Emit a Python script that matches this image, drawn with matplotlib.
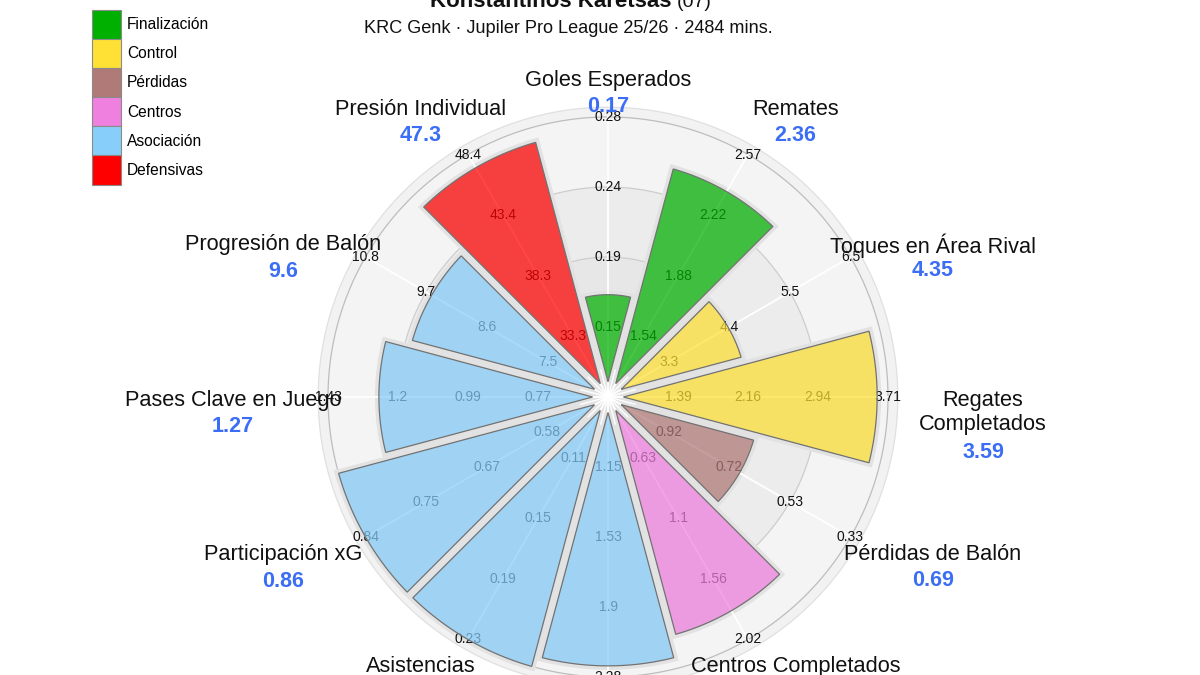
import numpy as np
import matplotlib
matplotlib.use('Agg')
import matplotlib.pyplot as plt
from matplotlib.patches import Patch
from matplotlib.colors import to_rgba

plt.rcParams['font.family'] = ['Liberation Sans', 'DejaVu Sans']

W, H, DPI = 1200, 675, 100

player = 'Konstantinos Karetsas'
dorsal = '(07)'
subtitle = 'KRC Genk · Jupiler Pro League 25/26 · 2484 mins.'

metrics = ['Goles Esperados', 'Remates', 'Toques en Área Rival', 'Regates\nCompletados',
           'Pérdidas de Balón', 'Centros Completados', 'Pases Progresivos', 'Asistencias',
           'Participación xG', 'Pases Clave en Juego', 'Progresión de Balón', 'Presión Individual']
values = [0.17, 2.36, 4.35, 3.59, 0.69, 1.80, 2.22, 0.23, 0.86, 1.27, 9.6, 47.3]
groups = ['Finalización', 'Finalización', 'Control', 'Control', 'Pérdidas', 'Centros',
          'Asociación', 'Asociación', 'Asociación', 'Asociación', 'Asociación', 'Defensivas']
# ring labels of each slice, inner -> outer (Pérdidas is inverted: lower is better)
rings = [
    [0.15, 0.19, 0.24, 0.28],
    [1.54, 1.88, 2.22, 2.57],
    [3.3, 4.4, 5.5, 6.5],
    [1.39, 2.16, 2.94, 3.71],
    [0.92, 0.72, 0.53, 0.33],
    [0.63, 1.1, 1.56, 2.02],
    [1.15, 1.53, 1.9, 2.28],
    [0.11, 0.15, 0.19, 0.23],
    [0.58, 0.67, 0.75, 0.84],
    [0.77, 0.99, 1.2, 1.43],
    [7.5, 8.6, 9.7, 10.8],
    [33.3, 38.3, 43.4, 48.4],
]
group_names = ['Finalización', 'Control', 'Pérdidas', 'Centros', 'Asociación', 'Defensivas']
group_colors = ['#00b000', '#ffe135', '#b07a78', '#f080e0', '#87cefa', '#ff0000']
color_of = dict(zip(group_names, group_colors))

# geometry (pixels)
CX, CY, R_PX = 608, 397, 280
RMAX = 1.05
PT = 72.0 / DPI  # px -> points
# small vertical nudges (px) of the metric names, by sin(angle)
NUDGE = {1.0: 0, 0.87: 14, 0.5: -4, 0.0: 0, -0.5: 6, -0.87: 11, -1.0: 0}


def scaled(v, rg):
    lo = rg[0] - (rg[3] - rg[0]) / 3.0
    return float(np.clip((v - lo) / (rg[3] - lo), 0, 1))


fig = plt.figure(figsize=(W / DPI, H / DPI), dpi=DPI)
half = R_PX * RMAX
ax = fig.add_axes([(CX - half) / W, (H - CY - half) / H, 2 * half / W, 2 * half / H],
                  projection='polar')
ax.set_ylim(0, RMAX)
ax.set_axis_off()

full = 2 * np.pi
# background bands
ax.bar(0, 0.035, width=full, bottom=1.0, color='#f2f2f2', lw=0, zorder=0)
ax.bar(0, 0.25, width=full, bottom=0.75, color='#f4f4f4', lw=0, zorder=0)
ax.bar(0, 0.25, width=full, bottom=0.5, color='#ececec', lw=0, zorder=0)
ax.bar(0, 0.5, width=full, bottom=0.0, color='#e7e7e7', lw=0, zorder=0)
tt = np.linspace(0, full, 500)
for rr, cc in [(0.5, '#cdcdcd'), (0.75, '#cdcdcd'), (1.0, '#bdbdbd'), (1.035, '#e0e0e0')]:
    ax.plot(tt, np.full_like(tt, rr), color=cc, lw=0.9, zorder=1)

n = len(metrics)
step = full / n
centers = [np.pi / 2 - i * step for i in range(n)]
hgap = 4.0 / R_PX
scaled_vals = [scaled(v, rg) for v, rg in zip(values, rings)]

# light grey halo behind each bar (forms the gaps)
ax.bar(centers, [r + hgap for r in scaled_vals], width=step, bottom=0,
       color='#e2e2e2', lw=0, zorder=2)
for c in centers:
    b = c + step / 2
    ax.plot([b, b], [0, 0.1], color='white', lw=1.0, zorder=2.2)
    ax.plot([c, c], [0, 1.0], color='white', lw=1.3, zorder=2.4)

for i, c in enumerate(centers):
    rg = rings[i]
    for j, lab in enumerate(rg):
        ax.text(c, (j + 1) / 4.0, f'{lab:g}', ha='center', va='center',
                fontsize=10, color='#111111', zorder=3)
    R = scaled_vals[i]
    r_tip = hgap / np.sin(step / 2)
    if R <= r_tip:
        continue
    rs = np.linspace(r_tip, R, 60)
    b0, b1 = c - step / 2, c + step / 2
    side0 = b0 + np.arcsin(hgap / rs)
    side1 = b1 - np.arcsin(hgap / rs)
    arc = np.linspace(side0[-1], side1[-1], 60)
    th = np.concatenate([side0, arc, side1[::-1]])
    rr = np.concatenate([rs, np.full_like(arc, R), rs[::-1]])
    col = color_of[groups[i]]
    ax.fill(th, rr, facecolor=to_rgba(col, 0.72), edgecolor='#727272', lw=0.9, zorder=4)

# metric names and values
for i, c in enumerate(centers):
    s = np.sin(c)
    dx = 375 * np.cos(c)
    dy = 7 + 320 * s + NUDGE[round(s, 2)]
    nlines = metrics[i].count('\n') + 1
    ax.annotate(metrics[i], xy=(0, 0), xytext=(dx * PT, dy * PT), textcoords='offset points',
                ha='center', va='top', fontsize=15.7, color='#111111', linespacing=1.2,
                zorder=6)
    vy = dy - 37 - 26 * (nlines - 1)
    ax.annotate(f'{values[i]:g}', xy=(0, 0), xytext=(dx * PT, vy * PT),
                textcoords='offset points', ha='center', va='center', fontsize=15.5,
                fontweight='bold', color='#3b6ef5', zorder=6)

# title
fig.text(671 / W, 1 - 7 / H, player, ha='right', va='baseline', fontsize=16,
         fontweight='bold', color='#111111')
fig.text(677 / W, 1 - 7 / H, dorsal, ha='left', va='baseline', fontsize=14, color='#111111')
fig.text(568 / W, 1 - 33 / H, subtitle, ha='center', va='baseline', fontsize=13.1,
         color='#111111')

handles = [Patch(facecolor=c, edgecolor='#8a8a8a', lw=0.8) for c in group_colors]
fig.legend(handles, group_names, loc='upper left', bbox_to_anchor=(92 / W, 1 - 10 / H),
           frameon=False, fontsize=11.2, handlelength=1.85, handleheight=2.5,
           labelspacing=0.0, handletextpad=0.4, borderpad=0, borderaxespad=0)

fig.savefig('out.png', dpi=DPI, facecolor='white')
